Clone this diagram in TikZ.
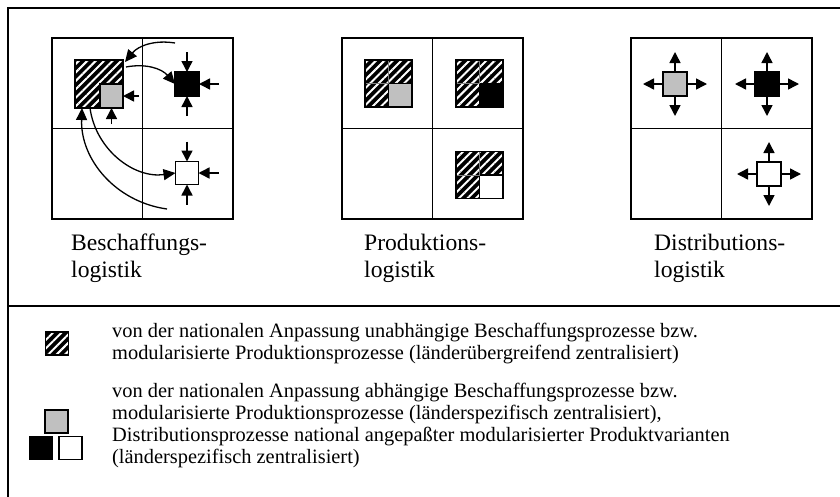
\documentclass[tikz,border=0pt]{standalone}
\usepackage{fontspec}
\setmainfont{Liberation Serif}
\usetikzlibrary{arrows.meta,patterns.meta}

\definecolor{procgray}{RGB}{192,192,192}

\tikzset{
  frameline/.style={line width=1.8pt},
  cell/.style={line width=1.8pt},
  sq/.style={draw, line width=1.3pt, minimum size=24pt, inner sep=0pt, outer sep=0pt},
  graysq/.style={sq, fill=procgray},
  blacksq/.style={sq, fill=black},
  whitesq/.style={sq, fill=white},
  hatchsq/.style={draw, line width=1.2pt, fill=black, inner sep=0pt, outer sep=0pt,
    postaction={pattern={Lines[angle=45,distance=6pt,line width=2pt]}, pattern color=white},
    postaction={draw, line width=1.2pt}},
  arr/.style={line width=1.5pt, -{Triangle[length=11pt,width=11pt]}},
  bendarr/.style={line width=1.3pt, -{Triangle[length=12pt,width=11pt]}},
  lbl/.style={font=\fontsize{23.6}{27}\selectfont, align=left, inner sep=0pt},
  legtxt/.style={font=\fontsize{20.4}{22}\selectfont, align=left, inner sep=0pt}
}

\begin{document}
\begin{tikzpicture}[x=1pt,y=1pt]
  \useasboundingbox (0,0) rectangle (840,-496);
  \clip (0,0) rectangle (840,-496);

  % frame and divider
  \draw[frameline] (845,-8) -- (8,-8) -- (8,-500);
  \draw[frameline] (8,-306) -- (845,-306);

  % the three 2x2 grids
  \foreach \gx in {52,342,631}{
    \draw[cell] (\gx,-38) rectangle +(181,-181);
    \draw[cell] (\gx+90.5,-38) -- +(0,-181);
    \draw[cell] (\gx,-128.5) -- +(181,0);
  }

  % Beschaffungslogistik
  \node[hatchsq, minimum size=48pt] (pH) at (99,-84) {};
  \node[graysq, minimum width=23pt, minimum height=24pt, anchor=south east] (pG) at (pH.south east) {};
  \node[blacksq] (pB) at (187,-84) {};
  \node[whitesq, minimum size=23pt] (pW) at (187,-173) {};

  \foreach \n in {pB,pW}{
    \foreach \a in {0,90,270}{
      \draw[arr] ([shift={(\a:20pt)}]\n.\a) -- (\n.\a);
    }
  }
  \foreach \a in {0,270}{
    \draw[arr] ([shift={(\a:16pt)}]pG.\a) -- (pG.\a);
  }

  \coordinate (k1) at (175,-43);
  \coordinate (k4) at (167,-209);
  \draw[bendarr] (k1) to[bend right=30] ([shift={(2pt,-2pt)}]pH.north east);
  \draw[bendarr] ([shift={(3pt,-7pt)}]pH.north east) to[bend left=30] (pB.west);
  \draw[bendarr] ([xshift=-9pt]pH.south) to[bend right=45] (pW.west);
  \draw[bendarr] (k4) to[bend left=42] ([xshift=-17pt]pH.south);

  % Produktionslogistik
  \foreach \cx/\cy/\nm/\st in {388.5/-83.5/qG/graysq, 479.5/-83.5/qB/blacksq, 479.5/-175/qW/whitesq}{
    \node[hatchsq, minimum size=47pt] (\nm H) at (\cx,\cy) {};
    \node[\st, minimum size=23.5pt, anchor=south east] (\nm) at (\nm H.south east) {};
    \draw[gray, line width=0.8pt] (\nm H.north) -- (\nm.north west);
    \draw[gray, line width=0.8pt] (\nm H.west) -- (\nm.north west);
    \draw[line width=1.2pt] (\nm H.north west) rectangle (\nm H.south east);
  }

  % Distributionslogistik
  \node[graysq] (dG) at (675,-84) {};
  \node[blacksq] (dB) at (767,-84) {};
  \node[whitesq] (dW) at (769,-174) {};
  \foreach \n in {dG,dB,dW}{
    \foreach \a in {0,90,180,270}{
      \draw[arr] (\n.\a) -- ([shift={(\a:20pt)}]\n.\a);
    }
  }

  % labels (base = last line)
  \node[lbl, anchor=base west] (tB) at (71,-277) {Beschaffungs-\\logistik};
  \node[lbl, anchor=base west] (tP) at (364,-277) {Produktions-\\logistik};
  \node[lbl, anchor=base west] (tD) at (654,-277) {Distributions-\\logistik};

  % legend
  \node[hatchsq, minimum size=23pt, line width=1pt] (lH) at (57,-343.5) {};
  \node[graysq, minimum size=23pt] (lG) at (56.5,-421.5) {};
  \node[blacksq, minimum size=23pt] (lB) at (41,-448) {};
  \node[whitesq, minimum size=23pt] (lW) at (70.5,-448) {};

  \node[legtxt, anchor=base west] (l1) at (112,-359) {von der nationalen Anpassung unabhängige Beschaffungsprozesse bzw.\\modularisierte Produktionsprozesse (länderübergreifend zentralisiert)};
  \node[legtxt, anchor=base west] (l2) at (112,-463) {von der nationalen Anpassung abhängige Beschaffungsprozesse bzw.\\modularisierte Produktionsprozesse (länderspezifisch zentralisiert),\\Distributionsprozesse national angepaßter modularisierter Produktvarianten\\(länderspezifisch zentralisiert)};
\end{tikzpicture}
\end{document}
